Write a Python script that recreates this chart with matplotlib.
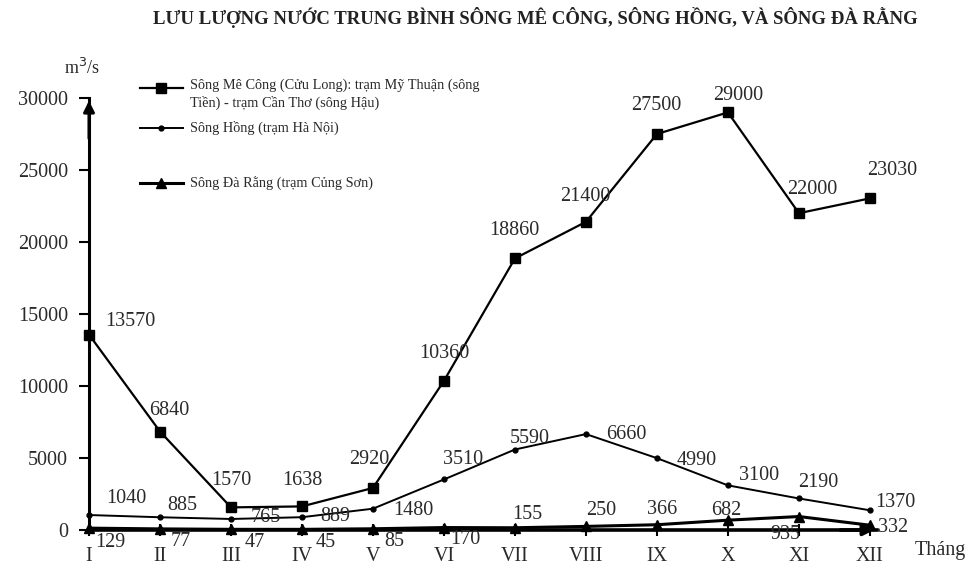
import matplotlib
matplotlib.use("Agg")
import matplotlib.pyplot as plt
from matplotlib.lines import Line2D

plt.rcParams['font.family'] = ['Liberation Serif', 'DejaVu Serif']

months = ["I", "II", "III", "IV", "V", "VI", "VII", "VIII", "IX", "X", "XI", "XII"]
mekong = [13570, 6840, 1570, 1638, 2920, 10360, 18860, 21400, 27500, 29000, 22000, 23030]
song_hong = [1040, 885, 765, 889, 1480, 3510, 5590, 6660, 4990, 3100, 2190, 1370]
da_rang = [129, 77, 47, 45, 85, 170, 155, 250, 366, 682, 935, 332]
y_ticks = [0, 5000, 10000, 15000, 20000, 25000, 30000]

legend_labels = [
    "Sông Mê Công (Cửu Long): trạm Mỹ Thuận (sông\nTiền) - trạm Cần Thơ (sông Hậu)",
    "Sông Hồng (trạm Hà Nội)",
    "Sông Đà Rằng (trạm Củng Sơn)",
]

# label offsets in pixels (dx, dy) for each data label
mekong_off = [(41, 13), (9, 21), (0, 27), (0, 26), (-4, 28), (0, 27), (-1, 28),
              (-1, 25), (-1, 28), (10, 17), (13, 24), (22, 28)]
hong_off = [(37, 17), (22, 12), (35, 1), (33, 1), (40, -2), (19, 20), (15, 11),
            (40, 0), (40, -2), (31, 10), (19, 16), (25, 8)]
darang_off = [(21, -14), (21, -13), (24, -13), (24, -13), (21, -13), (21, -12),
              (12, 13), (15, 16), (5, 15), (-2, 10), (-14, -18), (23, -2)]

TXT = '#2a2a2a'
W, H = 973, 568
fig = plt.figure(figsize=(W / 100, H / 100), dpi=100)
x0, x1 = 89, 877
y0, y1 = 530, 98
ax = fig.add_axes([x0 / W, 1 - y0 / H, (x1 - x0) / W, (y0 - y1) / H])

x = list(range(len(months)))
ax.plot(x, mekong, color='black', lw=1.6, marker='s', ms=7.5, clip_on=False, zorder=4)
ax.plot(x, song_hong, color='black', lw=1.4, marker='o', ms=3.5, clip_on=False, zorder=4)
ax.plot(x, da_rang, color='black', lw=2.2, marker='^', ms=7, clip_on=False, zorder=4)

ax.set_xlim(0, 11.1)
ax.set_ylim(0, 30000)

for s in ['top', 'right']:
    ax.spines[s].set_visible(False)
ax.spines['left'].set_linewidth(2.2)
ax.spines['bottom'].set_linewidth(2.6)

ax.set_yticks(y_ticks)
ax.set_yticklabels([str(v) for v in y_ticks])
ax.set_xticks(x)
ax.set_xticklabels(months)
ax.tick_params(axis='y', direction='out', length=7, width=1.5, pad=8,
               labelsize=14.5, labelcolor=TXT)
ax.tick_params(axis='x', direction='inout', length=8, width=1.5, pad=8,
               labelsize=14.5, labelcolor=TXT)

# axis arrows
ax.annotate('', xy=(0, 1.0), xytext=(0, 0.9), xycoords='axes fraction',
            arrowprops=dict(arrowstyle='-|>', color='black', lw=2.2, mutation_scale=16))
ax.annotate('', xy=(1.0, 0), xytext=(0.95, 0), xycoords='axes fraction',
            arrowprops=dict(arrowstyle='-|>', color='black', lw=2.6, mutation_scale=16))

lab_kw = dict(textcoords='offset pixels', ha='center', va='center',
              fontsize=14.5, color=TXT, zorder=5)
for xi, v, off in zip(x, mekong, mekong_off):
    ax.annotate(str(v), (xi, v), xytext=off, **lab_kw)
for xi, v, off in zip(x, song_hong, hong_off):
    ax.annotate(str(v), (xi, v), xytext=off, **lab_kw)
for xi, v, off in zip(x, da_rang, darang_off):
    ax.annotate(str(v), (xi, v), xytext=off, **lab_kw)

fig.text(535 / W, 1 - 18 / H,
         "LƯU LƯỢNG NƯỚC TRUNG BÌNH SÔNG MÊ CÔNG, SÔNG HỒNG, VÀ SÔNG ĐÀ RẰNG",
         ha='center', va='center', fontsize=13.5, fontweight='bold', color='#222222')
fig.text(82 / W, 1 - 68 / H, "m$^3$/s", ha='center', va='center', fontsize=13, color=TXT)
fig.text(940 / W, 1 - 551 / H, "Tháng", ha='center', va='center', fontsize=14.5, color=TXT)

# legend drawn by hand so the handle sits on the first line of the two-line label
leg_y = [88, 128, 183]
markers = [('s', 7.5, 1.6), ('o', 3.5, 1.4), ('^', 7, 2.2)]
for ly, (m, ms, lw), txt in zip(leg_y, markers, legend_labels):
    fy = 1 - ly / H
    fig.add_artist(Line2D([140 / W, 183 / W], [fy, fy], color='black', lw=lw))
    fig.add_artist(Line2D([161 / W], [fy], color='black', marker=m, ms=ms))
    if '\n' in txt:
        fig.text(190 / W, fy + 9 / H, txt, ha='left', va='top', fontsize=10.3,
                 color=TXT, linespacing=1.3)
    else:
        fig.text(190 / W, fy, txt, ha='left', va='center', fontsize=10.3, color=TXT)

fig.savefig("out.png", dpi=100)
